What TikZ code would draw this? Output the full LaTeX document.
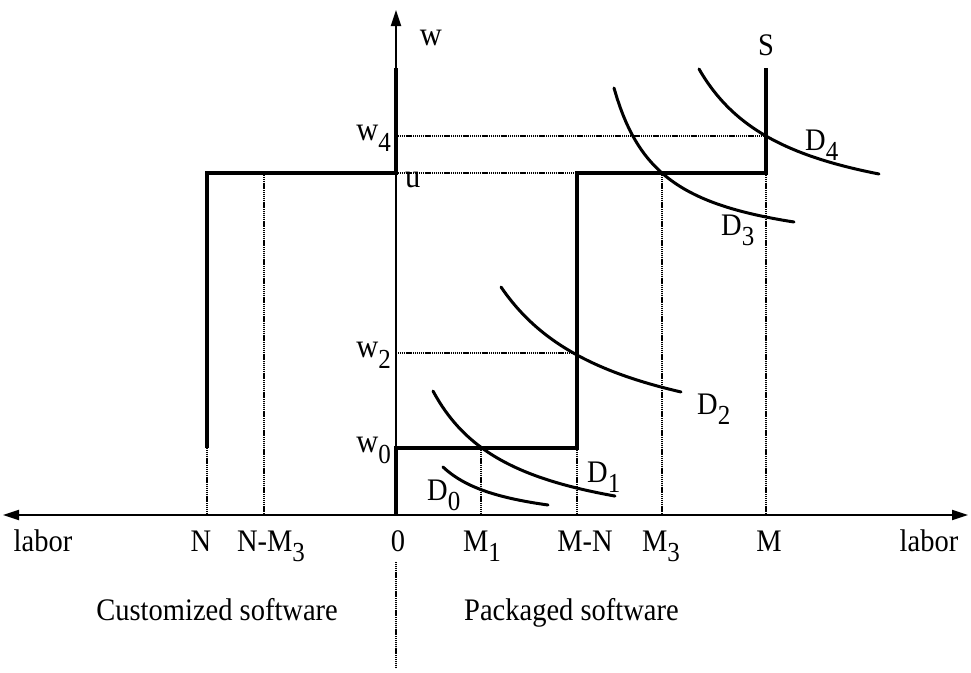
\documentclass[tikz,border=0pt]{standalone}
\usepackage{fontspec}
\setmainfont{Liberation Serif}
\usetikzlibrary{arrows.meta}
\newcommand\lsub[1]{\raisebox{-0.33em}{\fontsize{25}{25}\selectfont #1}}
\newcommand\tall[1]{\scalebox{1}[1.1]{#1}}
\begin{document}
\begin{tikzpicture}[x=1pt,y=-1pt,
  lbl/.style={font=\fontsize{28.5}{28.5}\selectfont, inner sep=0pt, anchor=base},
  big/.style={font=\fontsize{30.5}{30.5}\selectfont},
  axis/.style={line width=1.8pt},
  supply/.style={line width=4.2pt, line join=miter},
  guide/.style={line width=1.4pt, dash pattern=on 1.2pt off 0.7pt},
  demand/.style={line width=3pt, line cap=round}]
\useasboundingbox (0,0) rectangle (971,672);
% axes
\coordinate (xl) at (3,515);
\coordinate (xr) at (968,515);
\coordinate (o) at (396,515);
\coordinate (yt) at (396,10);
\draw[axis, {Triangle[length=16pt,width=10pt]}-{Triangle[length=16pt,width=10pt]}] (xl) -- (xr);
\draw[axis, -{Triangle[length=16pt,width=10pt]}] (o) -- (yt);
% guide lines
\draw[guide] (396,136) -- (766,136);
\draw[guide] (396,173) -- (577,173);
\draw[guide] (396,353) -- (577,353);
\draw[guide] (207,448) -- (207,515);
\draw[guide] (264,173) -- (264,515);
\draw[guide] (481,448) -- (481,515);
\draw[guide] (577,448) -- (577,515);
\draw[guide] (662,173) -- (662,515);
\draw[guide] (766,173) -- (766,515);
\draw[guide] (396,562) -- (396,668);
% supply
\draw[supply] (207,448) -- (207,173) -- (396,173) -- (396,68);
\draw[supply] (396,515) -- (396,448) -- (577,448) -- (577,173) -- (766,173) -- (766,68);
% demand curves (hyperbolas)
\draw[demand] plot[domain=443:548, samples=50] (\x, {528.8 - 40.67/(\x-377.2)*100});
\draw[demand] plot[domain=433:615, samples=60] (\x, {543.3 - 124.71/(\x-351.1)*100});
\draw[demand] plot[domain=501:681, samples=60] (\x, {461.2 - 206.78/(\x-382.3)*100});
\draw[demand] plot[domain=614:794, samples=60] (\x, {257.5 - 80.84/(\x-566.3)*100});
\draw[demand] plot[domain=699:879, samples=60] (\x, {227.2 - 144.28/(\x-607.8)*100});
% labels
\node[lbl, big] (lw) at (431,45) {\tall{w}};
\node[lbl, big, anchor=base east] (lw4) at (391,140) {\tall{w\lsub{4}}};
\node[lbl, big, anchor=base east] (lw2) at (391,357) {\tall{w\lsub{2}}};
\node[lbl, big, anchor=base east] (lw0) at (391,452) {\tall{w\lsub{0}}};
\node[lbl, big, anchor=base west] (lu) at (405,187) {\tall{u}};
\node[lbl] (lS) at (766,55) {\tall{S}};
\node[lbl, anchor=base west] (lD4) at (805,150) {\tall{D\lsub{4}}};
\node[lbl, anchor=base west] (lD3) at (721,235) {\tall{D\lsub{3}}};
\node[lbl, anchor=base west] (lD2) at (697,414) {\tall{D\lsub{2}}};
\node[lbl, anchor=base west] (lD1) at (587,482) {\tall{D\lsub{1}}};
\node[lbl, anchor=base west] (lD0) at (427,500) {\tall{D\lsub{0}}};
\node[lbl] (labl) at (43,551) {\tall{labor}};
\node[lbl] (lN) at (201,551) {\tall{N}};
\node[lbl] (lNM) at (271,551) {\tall{N-M\lsub{3}}};
\node[lbl] (l0) at (398,551) {\tall{0}};
\node[lbl] (lM1) at (482,551) {\tall{M\lsub{1}}};
\node[lbl] (lMN) at (585,551) {\tall{M-N}};
\node[lbl] (lM3) at (661,551) {\tall{M\lsub{3}}};
\node[lbl] (lM) at (769,551) {\tall{M}};
\node[lbl] (labr) at (929,551) {\tall{labor}};
\node[lbl, anchor=base east] (lcs) at (338,620) {\tall{Customized software}};
\node[lbl, anchor=base west] (lps) at (464,620) {\tall{Packaged software}};
\end{tikzpicture}
\end{document}
